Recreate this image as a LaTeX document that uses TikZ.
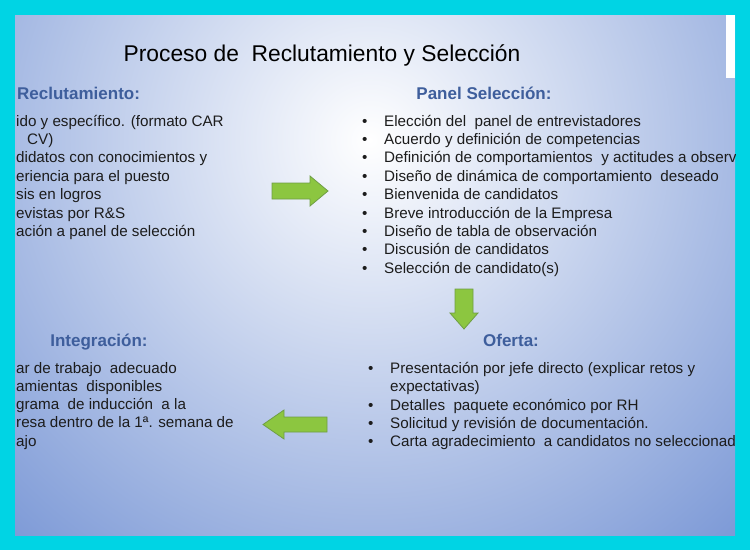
\documentclass[tikz,border=0pt]{standalone}
\usepackage{fontspec}
\setmainfont{Liberation Sans}
\definecolor{frame}{HTML}{00D4E4}
\definecolor{slideblue}{HTML}{6E8ED2}
\definecolor{head}{HTML}{3E5E9C}
\definecolor{txt}{HTML}{1C1C1C}
\definecolor{arrowgreen}{HTML}{8CC640}
\definecolor{arrowline}{HTML}{6F9E45}
\tikzset{
  line/.style={anchor=base west,inner sep=0pt,font=\fontsize{15.2}{16}\selectfont,text=txt},
  hd/.style={anchor=base,inner sep=0pt,font=\fontsize{17}{19}\selectfont\bfseries,text=head},
  dot/.style={anchor=base west,inner sep=0pt,font=\fontsize{15.2}{16}\selectfont,text=txt},
  bigarrow/.style={draw=arrowline,fill=arrowgreen,line width=0.8pt,line join=miter}
}
\begin{document}
\begin{tikzpicture}[x=1pt,y=-1pt]
\useasboundingbox (0,0) rectangle (750,550);
\fill[frame] (0,0) rectangle (750,550);
\begin{scope}
\clip (15,15) rectangle (735,535);
\shade[inner color=white,outer color=slideblue] (370,140) circle[radius=600];
\fill[white] (726,15) rectangle (735,78);

\node[anchor=base,inner sep=0pt,font=\fontsize{22.8}{24}\selectfont] (title) at (322,61) {Proceso de \ Reclutamiento y Selección};

% reclutamiento
\node[hd,anchor=base west] (rec) at (17,99) {Reclutamiento:};
\foreach \t/\x [count=\i] in {ido y específico. (formato CAR/16,CV)/27,didatos con conocimientos y/16,
  eriencia para el puesto/16,sis en logros/16,evistas por R\&S/16,ación a panel de selección/16}
  \node[line] at (\x,{126+18.4*(\i-1)}) {\t};

% panel
\node[hd] (pan) at (484,99) {Panel Selección:};
\foreach \t [count=\i] in {Elección del \ panel de entrevistadores,Acuerdo y definición de competencias,
  Definición de comportamientos \ y actitudes a observar,Diseño de dinámica de comportamiento \ deseado,
  Bienvenida de candidatos,Breve introducción de la Empresa,Diseño de tabla de observación,
  Discusión de candidatos,Selección de candidato(s)}{
  \node[dot] at (362,{126+18.4*(\i-1)}) {•};
  \node[line] at (384,{126+18.4*(\i-1)}) {\t};
}

% integracion
\node[hd] (int) at (99,346) {Integración:};
\foreach \t [count=\i] in {ar de trabajo \ adecuado,amientas \ disponibles,grama \ de inducción \ a la,
  resa dentro de la 1ª. semana de,ajo}
  \node[line] at (16,{373+18.3*(\i-1)}) {\t};

% oferta
\node[hd] (ofe) at (511,346) {Oferta:};
\foreach \y in {373,410,428,446} \node[dot] at (368,\y) {•};
\node[line] (o1) at (390,373) {Presentación por jefe directo (explicar retos y};
\node[line] (o2) at (390,391) {expectativas)};
\node[line] (o3) at (390,410) {Detalles \ paquete económico por RH};
\node[line] (o4) at (390,428) {Solicitud y revisión de documentación.};
\node[line] (o5) at (390,446) {Carta agradecimiento \ a candidatos no seleccionados};

% flechas
\draw[bigarrow] (272,183) -- (310,183) -- (310,176) -- (328,191) -- (310,206) -- (310,199) -- (272,199) -- cycle;
\draw[bigarrow] (455,289) -- (473,289) -- (473,313) -- (478,313) -- (464,329) -- (450,313) -- (455,313) -- cycle;
\draw[bigarrow] (327,417) -- (284,417) -- (284,410) -- (263,424.5) -- (284,439) -- (284,432) -- (327,432) -- cycle;
\end{scope}
\end{tikzpicture}
\end{document}
